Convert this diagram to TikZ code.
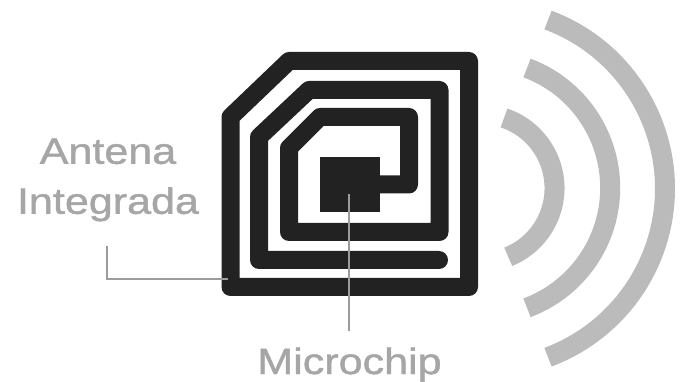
\documentclass[tikz,border=0pt]{standalone}
\usepackage{fontspec}
\setmainfont[FakeStretch=1.18,FakeBold=1.2]{Liberation Sans}
\begin{document}
\begin{tikzpicture}[x=1pt,y=-1pt,
  band/.style={draw=ink,line width=18pt,line join=round},
  wave/.style={draw=wavegrey,line width=20pt,line cap=butt},
  leader/.style={draw=leadgrey,line width=1.8pt},
  lbl/.style={text=labelgrey,font=\fontsize{36.5}{50}\selectfont,inner sep=0pt,align=center}]
\definecolor{ink}{HTML}{222222}
\definecolor{wavegrey}{HTML}{BBBBBB}
\definecolor{leadgrey}{HTML}{9C9C9C}
\definecolor{labelgrey}{HTML}{A6A6A6}
\useasboundingbox (0,0) rectangle (686,382);
\fill[white] (0,0) rectangle (686,382);
% waves
\draw[wave] (504,118) arc[start angle=-71.5,end angle=68,radius=74];
\draw[wave] (527,68) arc[start angle=-69.5,end angle=69.5,radius=128];
\draw[wave] (548,20) arc[start angle=-69.5,end angle=69.5,radius=180];
% antenna
\draw[band] (230.5,117) -- (289,61) -- (469,61) -- (469,287) -- (230.5,287) -- cycle;
\draw[band,line cap=round] (439,260) -- (259,260) -- (259,137) -- (309,90) -- (439.5,90) -- (439.5,232) -- (289,232) -- (289,148) -- (320,117) -- (409,117) -- (409,184.5) -- (375,184.5);
\node[fill=ink,minimum width=60pt,minimum height=55pt,inner sep=0pt] (chip) at (350,184.5) {};
% labels
\node[lbl] (antena) at (108,180) {Antena\\Integrada};
\node[lbl,anchor=base] (micro) at (349.5,374) {Microchip};
% leaders
\coordinate (antstart) at (107,246);
\coordinate (antend) at (228,279);
\coordinate (chipend) at (349,194);
\coordinate (microstart) at (349,331);
\draw[leader] (antstart) |- (antend);
\draw[leader] (microstart) -- (chipend);
\end{tikzpicture}
\end{document}
